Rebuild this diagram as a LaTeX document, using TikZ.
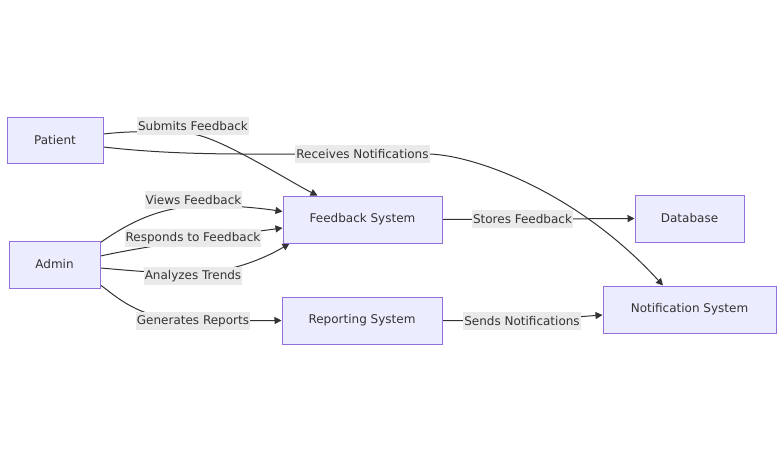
\documentclass[tikz,border=0pt]{standalone}
\usepackage{fontspec}
\setmainfont{DejaVu Sans}
\usetikzlibrary{arrows.meta,calc,backgrounds}
\definecolor{nodefill}{HTML}{ECECFF}
\definecolor{nodeline}{HTML}{9370DB}
\definecolor{ink}{HTML}{333333}
\definecolor{lblfill}{RGB}{234,234,234}
\tikzset{
  box/.style={draw=nodeline, fill=nodefill, line width=1pt, minimum height=47pt, inner sep=0pt, text=ink, font=\fontsize{12}{14}\selectfont},
  elabel/.style={fill=lblfill, minimum height=18pt, inner xsep=1pt, inner ysep=0pt, text=ink, font=\fontsize{12}{14}\selectfont},
  conn/.style={draw=ink, line width=1pt, -{Triangle[length=7pt,width=7pt]}},
}
\begin{document}
\begin{tikzpicture}[x=1pt,y=-1pt]
\useasboundingbox (0,0) rectangle (783,461);
% nodes
\node[box, minimum width=96pt, minimum height=46pt] (P) at (55,140) {Patient};
\node[box, minimum width=91pt] (A) at (54.5,264.5) {Admin};
\node[box, minimum width=159pt] (FS) at (362.5,219.5) {Feedback System};
\node[box, minimum width=160pt] (RS) at (362,320.5) {Reporting System};
\node[box, minimum width=109pt] (DB) at (689.5,218.5) {Database};
\node[box, minimum width=173pt] (NS) at (689.5,309.5) {Notification System};
% edge labels
\node[elabel] (lSub) at (193,126) {Submits Feedback};
\node[elabel] (lRec) at (362.5,154) {Receives Notifications};
\node[elabel] (lView) at (193.5,200) {Views Feedback};
\node[elabel] (lResp) at (193,238) {Responds to Feedback};
\node[elabel] (lAna) at (193,276) {Analyzes Trends};
\node[elabel] (lGen) at (193,321) {Generates Reports};
\node[elabel] (lSto) at (522.5,219) {Stores Feedback};
\node[elabel] (lSend) at (522,321) {Sends Notifications};
\begin{scope}[on background layer]
% Patient -> Feedback System
\draw[conn] ($(P.east)+(0,-6)$) .. controls +(27,-3) and +(-40,-3) .. ($(lSub)+(-3,8)$)
  .. controls +(25,0) and +(-28,-14) .. ($(FS.north west)+(35,0)$);
% Patient -> Notification System
\draw[conn] ($(P.east)+(0,7)$) .. controls +(70,8) and +(-60,0) .. (lRec.west) -- (lRec.east)
  .. controls +(49,2) and +(-83,-91) .. ($(NS.north)+(-26.5,0)$);
% Admin -> FS (views)
\draw[conn] ($(A.north east)+(0,2)$) .. controls +(30,-21) and +(-40,1) .. ($(lView)+(7,6)$)
  .. controls +(30,-1) and +(-23,-3.5) .. ($(FS.west)+(0,-8)$);
% Admin -> FS (responds)
\draw[conn] ($(A.east)+(0,-8.5)$) .. controls +(50,-11) and +(-53,7) .. ($(FS.west)+(0,8.5)$);
% Admin -> FS (analyzes)
\draw[conn] ($(A.east)+(0,3.5)$) .. controls +(25,2) and +(-43,0) .. ($(lAna)+(0,-3)$)
  .. controls +(37,0) and +(-25,15) .. ($(FS.south west)+(7,0)$);
% Admin -> Reporting
\draw[conn] ($(A.east)+(0,20.5)$) .. controls +(20,15) and +(-53,-2) .. (lGen.center) -- (RS.west);
% FS -> DB
\draw[conn] (FS.east) -- (DB.west);
% RS -> NS
\draw[conn] (RS.east) -- (lSend.center) -- ($(NS.west)+(0,5.5)$);
\end{scope}
\end{tikzpicture}
\end{document}
